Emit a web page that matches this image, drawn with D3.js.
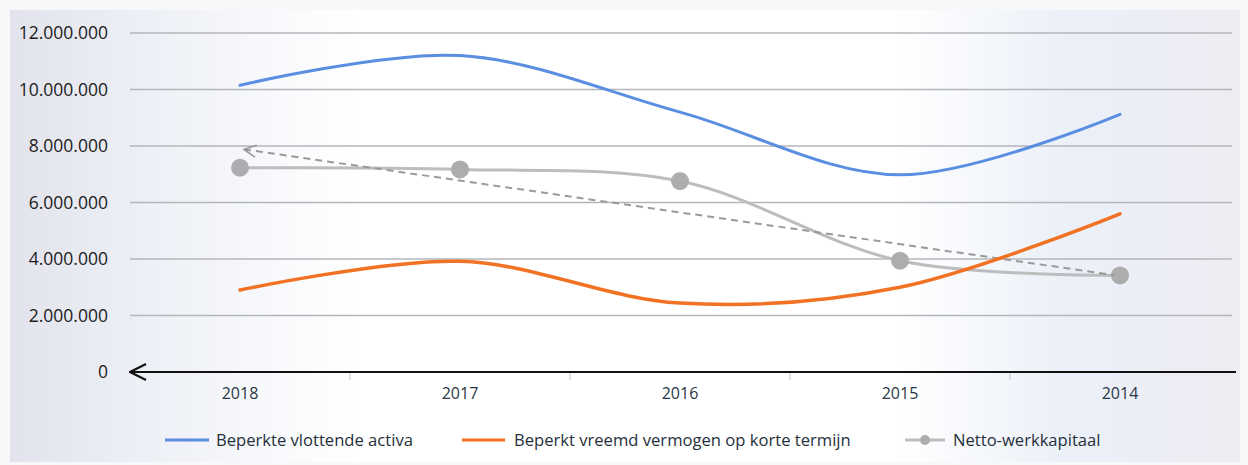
<!DOCTYPE html>
<html><head><meta charset="utf-8">
<script src="https://cdn.jsdelivr.net/npm/d3@7"></script>
<style>body{margin:0;background:#fff}svg{display:block}</style>
</head><body>
<svg id="c" width="1248" height="465"></svg>
<script>
const categories = ["2018","2017","2016","2015","2014"];
const activa = [10150000, 11200000, 9200000, 6980000, 9120000];
const vreemd = [2900000, 3920000, 2440000, 3000000, 5600000];
const netto = [7230000, 7170000, 6760000, 3940000, 3420000];
const trendEnds = [7880000, 3430000];
const yTicks = [0, 2000000, 4000000, 6000000, 8000000, 10000000, 12000000];
const seriesNames = ["Beperkte vlottende activa","Beperkt vreemd vermogen op korte termijn","Netto-werkkapitaal"];

const FONT = "'Open Sans', 'Noto Sans', sans-serif";
const svg = d3.select("#c");
const defs = svg.append("defs");
const g1 = defs.append("linearGradient").attr("id","bg").attr("x1","0").attr("x2","1").attr("y1","0").attr("y2","0");
[["0","#e2e3ec"],["0.1","#eceff6"],["0.28","#ffffff"],["0.72","#ffffff"],["0.86","#ebf0f8"],["1","#eeecf3"]]
  .forEach(s=>g1.append("stop").attr("offset",s[0]).attr("stop-color",s[1]));
svg.append("rect").attr("width",1248).attr("height",465).attr("fill","#f8f8fa");
svg.append("rect").attr("x",10).attr("y",10).attr("width",1230).attr("height",452).attr("fill","url(#bg)");

defs.append("marker").attr("id","arrA").attr("viewBox","0 0 14 14").attr("refX",1).attr("refY",7)
  .attr("markerWidth",14).attr("markerHeight",14).attr("markerUnits","userSpaceOnUse").attr("orient","auto")
  .append("path").attr("d","M13,1 L1,7 L13,13").attr("fill","none").attr("stroke","#999").attr("stroke-width",1.6);
defs.append("marker").attr("id","arrX").attr("viewBox","0 0 18 18").attr("refX",1).attr("refY",9)
  .attr("markerWidth",18).attr("markerHeight",18).attr("markerUnits","userSpaceOnUse").attr("orient","auto")
  .append("path").attr("d","M17,1 L1,9 L17,17").attr("fill","none").attr("stroke","#111").attr("stroke-width",2.2);

const x = d3.scaleBand().domain(categories).range([130,1230]);
const y = d3.scaleLinear().domain([0,12000000]).range([372,33]);
const fmt = v => d3.format(",")(v).replace(/,/g,".");

// gridlines
svg.append("g").selectAll("line").data(yTicks.filter(d=>d>0)).join("line")
  .attr("x1",130).attr("x2",1232).attr("y1",d=>y(d)).attr("y2",d=>y(d))
  .attr("stroke","#b4b6ba").attr("stroke-width",1.5);

// y axis labels
const ya = svg.append("g").attr("transform","translate(111,0)")
  .call(d3.axisLeft(y).tickValues(yTicks).tickFormat(fmt).tickSize(0));
ya.select(".domain").remove();
ya.selectAll("text").attr("font-family",FONT).attr("font-size",17.5).attr("fill","#1c1c1c");

// x axis
const xa = svg.append("g").attr("transform","translate(0,372)")
  .call(d3.axisBottom(x).tickSize(0).tickPadding(16));
xa.select(".domain").remove();
xa.selectAll("text").attr("font-family",FONT).attr("font-size",16).attr("fill","#2a3646");
svg.append("g").selectAll("line").data(categories.slice(1)).join("line")
  .attr("x1",d=>x(d)).attr("x2",d=>x(d)).attr("y1",372).attr("y2",380).attr("stroke","#c4c4c4").attr("stroke-width",1);
svg.append("line").attr("x1",130).attr("x2",1236).attr("y1",372).attr("y2",372)
  .attr("stroke","#111").attr("stroke-width",2).attr("marker-start","url(#arrX)");

const cx = c => x(c) + x.bandwidth()/2;
const line = d3.line().x((d,i)=>cx(categories[i])).y(d=>y(d)).curve(d3.curveCatmullRom.alpha(0.5));

// netto series (gray)
svg.append("path").attr("d",line(netto)).attr("fill","none").attr("stroke","#bdbdbf").attr("stroke-width",3);
svg.append("g").selectAll("circle").data(netto).join("circle")
  .attr("cx",(d,i)=>cx(categories[i])).attr("cy",d=>y(d)).attr("r",9).attr("fill","#adadaf");

// trendline
svg.append("line").attr("x1",cx(categories[0])+4).attr("y1",y(trendEnds[0]))
  .attr("x2",cx(categories[4])-6).attr("y2",y(trendEnds[1]))
  .attr("stroke","#9a9a9a").attr("stroke-width",2).attr("stroke-dasharray","7,5").attr("marker-start","url(#arrA)");

svg.append("path").attr("d",line(activa)).attr("fill","none").attr("stroke","#5a8ee0").attr("stroke-width",3).attr("stroke-linecap","round");
svg.append("path").attr("d",line(vreemd)).attr("fill","none").attr("stroke","#f07222").attr("stroke-width",3.5).attr("stroke-linecap","round");

// legend
const leg = [
  {name:seriesNames[0], col:"#5a8ee0", x1:165, x2:209, tx:216, marker:false},
  {name:seriesNames[1], col:"#f07222", x1:462, x2:505, tx:514, marker:false},
  {name:seriesNames[2], col:"#bdbdbf", x1:905, x2:945, tx:953, marker:true}
];
const lg = svg.append("g");
leg.forEach(l=>{
  lg.append("line").attr("x1",l.x1).attr("x2",l.x2).attr("y1",440).attr("y2",440).attr("stroke",l.col).attr("stroke-width",3);
  if(l.marker) lg.append("circle").attr("cx",(l.x1+l.x2)/2).attr("cy",440).attr("r",5).attr("fill","#adadaf");
  lg.append("text").attr("x",l.tx).attr("y",446).text(l.name)
    .attr("font-family",FONT).attr("font-size",16.6).attr("fill","#26303c");
});
</script>
</body></html>
